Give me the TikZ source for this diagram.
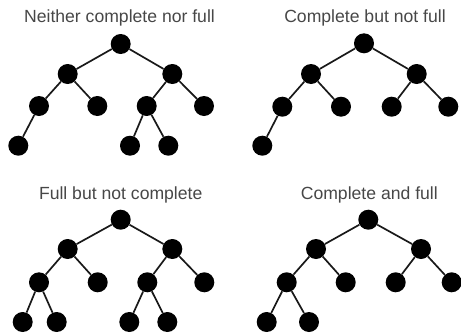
\documentclass[tikz,border=0pt]{standalone}
\usepackage{fontspec}
\setmainfont{Liberation Sans}
\begin{document}
\begin{tikzpicture}[x=1pt,y=-1pt,
  vert/.style={circle,fill=black,inner sep=0pt,minimum size=20pt},
  ttl/.style={text=black!72,font=\fontsize{17.6}{20}\selectfont,inner sep=0pt},
  edge/.style={draw=black!90,line width=1.7pt}]
\useasboundingbox (0,0) rectangle (461,335);
% --- Tree A: Neither complete nor full
\node[ttl] (ta) at (119.5,18) {Neither complete nor full};
\node[vert] (a0) at (120.7,44) {};
\node[vert] (a1) at (67.7,74) {};
\node[vert] (a2) at (172.3,74) {};
\node[vert] (a3) at (39,106) {};
\node[vert] (a4) at (97.3,106) {};
\node[vert] (a5) at (146.7,106) {};
\node[vert] (a6) at (204,106) {};
\node[vert] (a7) at (18.3,145.7) {};
\node[vert] (a8) at (130,145.7) {};
\node[vert] (a9) at (168.3,145.7) {};
\draw[edge] (a0)--(a1) (a0)--(a2) (a1)--(a3) (a1)--(a4) (a2)--(a5) (a2)--(a6) (a3)--(a7) (a5)--(a8) (a5)--(a9);
% --- Tree B: Complete but not full
\node[ttl] (tb) at (365,18) {Complete but not full};
\node[vert] (b0) at (364,43.3) {};
\node[vert] (b1) at (311,74) {};
\node[vert] (b2) at (416.7,74) {};
\node[vert] (b3) at (282.3,106.7) {};
\node[vert] (b4) at (341,106.7) {};
\node[vert] (b5) at (391.7,106.7) {};
\node[vert] (b6) at (448.3,106.7) {};
\node[vert] (b7) at (262.3,145.7) {};
\draw[edge] (b0)--(b1) (b0)--(b2) (b1)--(b3) (b1)--(b4) (b2)--(b5) (b2)--(b6) (b3)--(b7);
% --- Tree C: Full but not complete
\node[ttl] (tc) at (120.7,194.7) {Full but not complete};
\node[vert] (c0) at (120.7,219.7) {};
\node[vert] (c1) at (67.7,249) {};
\node[vert] (c2) at (172.3,249) {};
\node[vert] (c3) at (39,282.3) {};
\node[vert] (c4) at (97.7,282.3) {};
\node[vert] (c5) at (147.3,282.3) {};
\node[vert] (c6) at (204.3,282.3) {};
\node[vert] (c7) at (22.7,322) {};
\node[vert] (c8) at (56.7,322) {};
\node[vert] (c9) at (129.3,322) {};
\node[vert] (c10) at (167.3,322) {};
\draw[edge] (c0)--(c1) (c0)--(c2) (c1)--(c3) (c1)--(c4) (c2)--(c5) (c2)--(c6) (c3)--(c7) (c3)--(c8) (c5)--(c9) (c5)--(c10);
% --- Tree D: Complete and full
\node[ttl] (td) at (369.3,194.7) {Complete and full};
\node[vert] (d0) at (368.3,219.7) {};
\node[vert] (d1) at (316,249) {};
\node[vert] (d2) at (421,249) {};
\node[vert] (d3) at (286.7,282.3) {};
\node[vert] (d4) at (345.7,282.3) {};
\node[vert] (d5) at (395.7,282.3) {};
\node[vert] (d6) at (451.7,282.3) {};
\node[vert] (d7) at (266.7,322) {};
\node[vert] (d8) at (309,322) {};
\draw[edge] (d0)--(d1) (d0)--(d2) (d1)--(d3) (d1)--(d4) (d2)--(d5) (d2)--(d6) (d3)--(d7) (d3)--(d8);
\end{tikzpicture}
\end{document}
